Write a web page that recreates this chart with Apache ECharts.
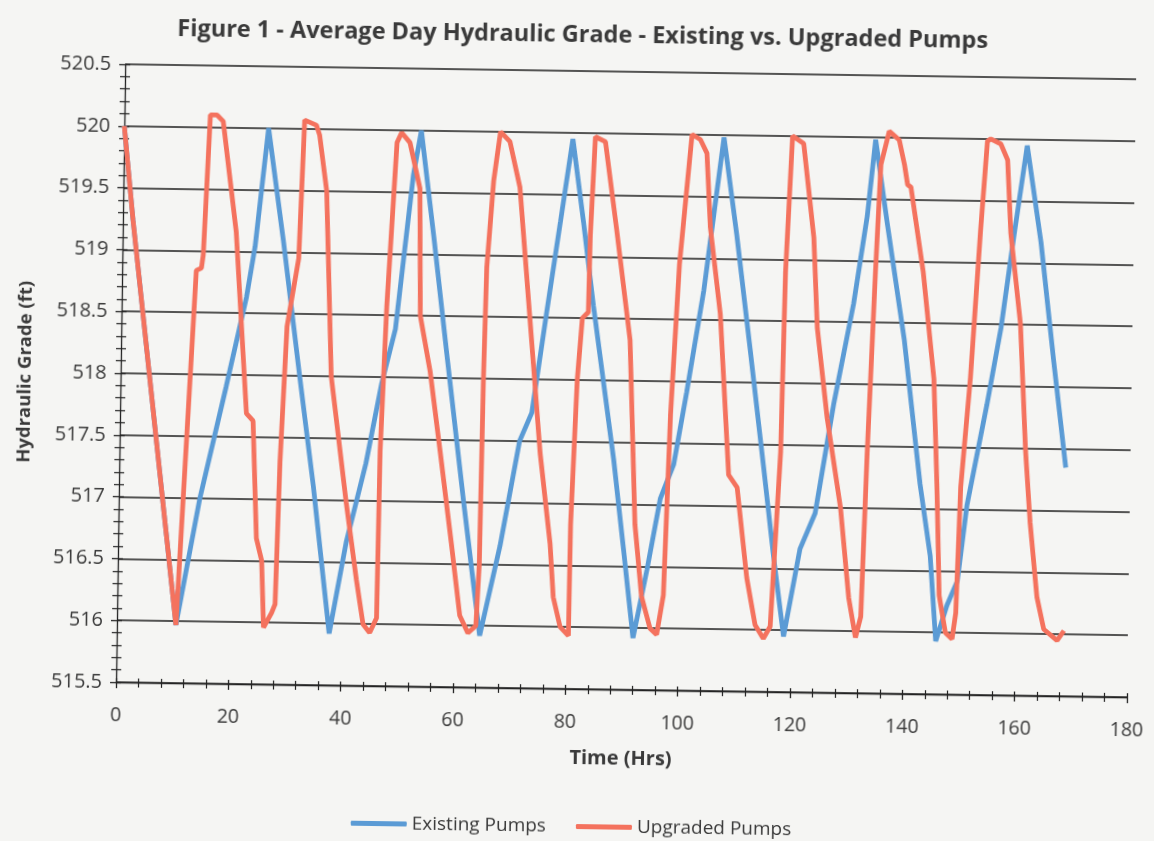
<!DOCTYPE html>
<html>
<head>
<meta charset="utf-8">
<script src="https://cdn.jsdelivr.net/npm/echarts@6/dist/echarts.min.js"></script>
<style>
  html, body { margin: 0; padding: 0; background: #f5f5f3; }
  #chart { width: 1154px; height: 841px; transform: rotate(0.85deg); }
</style>
</head>
<body>
<div id="chart"></div>
<script>
// hours / grade
var existingHours = [0, 1.8, 10.5, 14.4, 18.8, 22.2, 23.6, 25.7, 28.6, 31.9, 34.6, 37.8,
  40.6, 43.9, 46.5, 48.8, 51.6, 52.9, 55.4, 58.0, 61.4, 64.6, 68.0, 71.2, 73.3, 75.7,
  77.9, 79.9, 82.0, 84.0, 88.0, 90.0, 91.9, 94.2, 96.4, 98.7, 100.8, 103.6, 105.2, 106.8,
  109.3, 112.0, 114.7, 116.7, 118.7, 121.4, 124.0, 127.0, 130.3, 132.5, 133.8, 136.1,
  139.4, 142.6, 144.6, 145.8, 147.7, 149.5, 151.0, 154.3, 156.6, 158.7, 160.8, 163.5,
  166.1, 168.5];
var existingGrade = [520, 519.24, 515.97, 516.99, 517.9, 518.63, 519.04, 520.0, 519.1, 517.99, 517.11, 515.92,
  516.66, 517.3, 517.95, 518.39, 519.64, 520.0, 519.14, 518.2, 517.0, 515.92, 516.65, 517.5, 517.73, 518.55,
  519.28, 519.95, 519.28, 518.6, 517.36, 516.63, 515.92, 516.47, 517.05, 517.33, 517.91, 518.74, 519.36, 519.98,
  519.2, 518.27, 517.32, 516.6, 515.95, 516.66, 516.95, 517.83, 518.65, 519.36, 519.98, 519.3,
  518.37, 517.2, 516.62, 515.93, 516.22, 516.42, 517.03, 517.85, 518.47, 519.23, 519.95, 519.17,
  518.2, 517.35];

var upgradedHours = [0, 1.8, 10.5, 13.2, 14.1, 14.4, 15.3, 16.5, 17.6, 20.2, 22.5, 23.7, 24.6,
  25.6, 26.1, 27.5, 28.1, 28.6, 29.5, 31.4, 32.1, 34.2, 34.8, 36.2, 37.5, 40.5, 42.5, 43.8,
  45.0, 46.2, 46.4, 47.2, 48.6, 49.4, 50.9, 52.8, 53.2, 55.1, 57.1, 59.3, 61.0, 62.5, 63.9,
  64.35, 64.6, 64.9, 65.9, 67.0, 68.7, 70.6, 72.0, 73.5, 74.9, 76.9, 77.6, 78.9, 80.4, 80.5,
  81.3, 82.05, 83.1, 83.25, 83.9, 85.7, 87.9, 90.6, 91.95, 93.3, 94.9, 96.1, 97.2, 98.0, 99.2,
  101.1, 102.6, 103.8, 104.6, 106.6, 108.5, 110.05, 112.0, 113.6, 115.1, 116.3, 117.7, 118.1,
  119.0, 121.0, 123.05, 123.9, 125.9, 128.5, 130.2, 131.5, 132.4, 133.1, 134.1, 134.8, 136.2,
  138.0, 139.0, 139.6, 140.2, 142.6, 144.8, 145.6, 146.3, 147.5, 148.7, 149.3, 149.85, 151.3,
  152.7, 153.7, 154.3, 156.1, 157.35, 158.1, 160.05, 161.3, 162.3, 163.7, 165.0, 167.4, 168.6];
var upgradedGrade = [520, 519.24, 515.97, 518.84, 518.86, 518.97, 520.1, 520.1, 520.05, 519.16, 517.69, 517.63, 516.68,
  516.5, 515.96, 516.08, 516.15, 517.3, 518.4, 518.95, 520.07, 520.03, 519.95, 519.5, 518.0, 516.98, 516.36, 516.0,
  515.93, 516.05, 517.4, 518.57, 519.9, 519.98, 519.9, 519.53, 518.5, 518.05, 517.4, 516.67, 516.08, 515.94, 516.0,
  516.5, 518.0, 518.9, 519.6, 520.0, 519.92, 519.55, 518.85, 518.1, 517.4, 516.67, 516.24, 516.0, 515.93, 516.83,
  518.0, 518.5, 518.55, 519.17, 519.97, 519.93, 519.23, 518.33, 516.84, 516.26, 516.0, 515.95, 516.27, 517.73, 518.95,
  520.0, 519.96, 519.85, 519.25, 518.55, 517.25, 517.15, 516.42, 516.04, 515.93, 516.03, 517.44, 518.9,
  520.0, 519.94, 519.18, 518.45, 517.72, 517.0, 516.27, 515.95, 516.12, 517.43, 518.9, 519.78, 520.05,
  519.98, 519.78, 519.62, 519.6, 518.92, 518.05, 517.2, 516.3, 516.0, 515.95, 516.16, 517.18, 518.07,
  519.25, 519.98, 520.0, 519.96, 519.83, 519.24, 518.51, 517.48, 516.9, 516.3, 516.04, 515.95, 516.03];

var xTicks = [0, 180, 20];
var yTicks = [515.5, 520.5, 0.5];

function pairs(xs, ys) {
  var out = [];
  for (var i = 0; i < xs.length; i++) out.push([xs[i], ys[i]]);
  return out;
}

var font = '"Open Sans", "Liberation Sans", sans-serif';
var ink = '#3a3a3a';

var chart = echarts.init(document.getElementById('chart'));
chart.setOption({
  backgroundColor: 'transparent',
  animation: false,
  textStyle: { fontFamily: font },
  title: {
    text: 'Figure 1 - Average Day Hydraulic Grade - Existing vs. Upgraded Pumps',
    left: 'center',
    top: 18,
    textStyle: { fontFamily: font, fontSize: 23.5, fontWeight: 'bold', color: ink }
  },
  legend: {
    bottom: 0,
    left: 'center',
    icon: 'roundRect',
    itemWidth: 56,
    itemHeight: 5,
    itemGap: 30,
    textStyle: { fontFamily: font, fontSize: 19, color: ink },
    data: ['Existing Pumps', 'Upgraded Pumps']
  },
  grid: { left: 120, right: 23, top: 71, bottom: 152 },
  xAxis: [{
    type: 'value',
    min: xTicks[0], max: xTicks[1], interval: xTicks[2],
    name: 'Time (Hrs)',
    nameLocation: 'middle',
    nameGap: 59,
    nameTextStyle: { fontFamily: font, fontSize: 20, fontWeight: 'bold', color: ink },
    axisLine: { lineStyle: { color: '#222', width: 1.3 } },
    axisTick: { length: 6, lineStyle: { color: '#222', width: 1.3 } },
    minorTick: { show: true, splitNumber: 5, length: 5, lineStyle: { color: '#222', width: 1.2 } },
    axisLabel: { margin: 23, fontSize: 19.5, color: ink, fontFamily: font },
    splitLine: { show: false }
  }, {
    type: 'value',
    min: xTicks[0], max: xTicks[1], interval: xTicks[2],
    position: 'bottom',
    axisLine: { show: false },
    axisTick: { inside: true, length: 4, lineStyle: { color: '#222', width: 1.3 } },
    minorTick: { show: true, splitNumber: 5, length: 4, lineStyle: { color: '#222', width: 1.2 } },
    axisLabel: { show: false },
    splitLine: { show: false }
  }],
  yAxis: [{
    type: 'value',
    min: yTicks[0], max: yTicks[1], interval: yTicks[2],
    name: 'Hydraulic Grade (ft)',
    nameLocation: 'middle',
    nameGap: 86,
    nameTextStyle: { fontFamily: font, fontSize: 18.5, fontWeight: 'bold', color: ink },
    axisLine: { show: true, lineStyle: { color: '#222', width: 1.3 } },
    axisTick: { show: true, length: 6, lineStyle: { color: '#222', width: 1.3 } },
    minorTick: { show: true, splitNumber: 5, length: 5, lineStyle: { color: '#222', width: 1.2 } },
    axisLabel: { margin: 14, fontSize: 20, color: ink, fontFamily: font },
    splitLine: { show: true, lineStyle: { color: '#1e1e1e', width: 1.5 } }
  }, {
    type: 'value',
    min: yTicks[0], max: yTicks[1], interval: yTicks[2],
    position: 'left',
    axisLine: { show: false },
    axisTick: { show: true, inside: true, length: 5, lineStyle: { color: '#222', width: 1.3 } },
    minorTick: { show: true, splitNumber: 5, length: 5, lineStyle: { color: '#222', width: 1.2 } },
    axisLabel: { show: false },
    splitLine: { show: false }
  }],
  series: [{
    name: 'Existing Pumps',
    type: 'line',
    symbol: 'none',
    color: '#5b9bd5',
    lineStyle: { width: 4.8, color: '#5b9bd5' },
    data: pairs(existingHours, existingGrade)
  }, {
    name: 'Upgraded Pumps',
    type: 'line',
    symbol: 'none',
    color: '#f4725e',
    lineStyle: { width: 4.8, color: '#f4725e' },
    data: pairs(upgradedHours, upgradedGrade)
  }]
});
</script>
</body>
</html>
